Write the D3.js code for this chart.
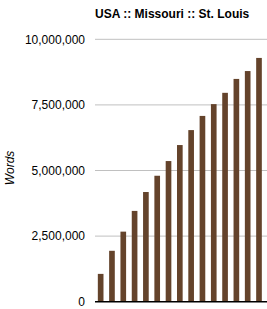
<!DOCTYPE html>
<html>
<head>
<meta charset="utf-8">
<script src="https://cdn.jsdelivr.net/npm/d3@7"></script>
<style>
  body { margin: 0; background: #fff; }
  text { font-family: "Liberation Sans", Arial, sans-serif; }
</style>
</head>
<body>
<div class="chart_container"></div>
<script>
// data
const years = ["1","2","3","4","5","6","7","8","9","10","11","12","13","14","15"];
const words = [1060000, 1940000, 2670000, 3460000, 4180000, 4800000, 5360000, 5970000,
  6540000, 7080000, 7530000, 7960000, 8490000, 8790000, 9290000];
const yTicks = [0, 2500000, 5000000, 7500000, 10000000];

const width = 267, height = 309;
const plotLeft = 95, plotRight = 267, plotTop = 39.3, plotBottom = 301.7;

const svg = d3.select("div.chart_container").append("svg")
  .attr("width", width).attr("height", height);

const xScale = d3.scaleBand()
  .domain(years)
  .range([plotLeft, plotLeft + 11.31 * years.length])
  .paddingInner(0.5)
  .paddingOuter(0.25);

const yScale = d3.scaleLinear()
  .domain([0, 10000000])
  .range([plotBottom, plotTop]);

// grid
svg.append("g").selectAll("line")
  .data(yTicks.filter(d => d > 0)).enter().append("line")
  .attr("x1", plotLeft).attr("x2", plotRight)
  .attr("y1", d => yScale(d)).attr("y2", d => yScale(d))
  .attr("stroke", "#c0c0c0")
  .attr("stroke-width", 1);

// y labels
svg.append("g").selectAll("text")
  .data(yTicks).enter().append("text")
  .attr("x", 85)
  .attr("y", d => yScale(d))
  .attr("dy", "0.35em")
  .attr("text-anchor", "end")
  .attr("font-size", 12)
  .attr("fill", "#000")
  .text(d => d3.format(",")(d));

svg.append("g").selectAll("rect")
  .data(words).enter().append("rect")
  .attr("x", (d, i) => xScale(years[i]))
  .attr("y", d => yScale(d))
  .attr("width", xScale.bandwidth())
  .attr("height", d => yScale(0) - yScale(d))
  .attr("fill", "#64432b");

// baseline
svg.append("line")
  .attr("x1", plotLeft).attr("x2", plotRight)
  .attr("y1", yScale(0)).attr("y2", yScale(0))
  .attr("stroke", "#000").attr("stroke-width", 1.5);

svg.append("text")
  .attr("x", 95).attr("y", 18)
  .attr("font-size", 12).attr("font-weight", "bold")
  .text("USA :: Missouri :: St. Louis");

svg.append("text")
  .attr("transform", "translate(14,168) rotate(-90)")
  .attr("text-anchor", "middle")
  .attr("font-size", 12).attr("font-style", "italic")
  .text("Words");
</script>
</body>
</html>
